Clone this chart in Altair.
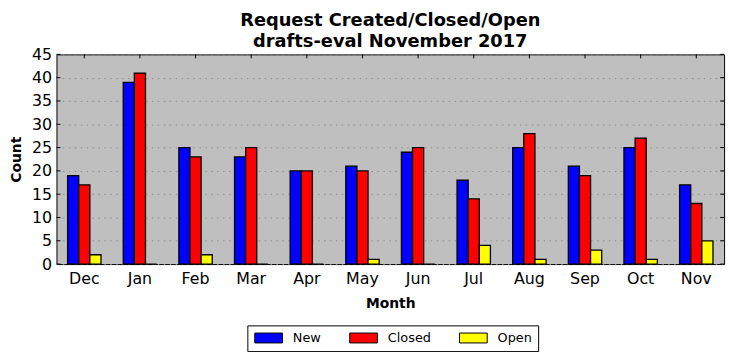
import altair as alt
import pandas as pd

months = ["Dec", "Jan", "Feb", "Mar", "Apr", "May", "Jun", "Jul", "Aug", "Sep", "Oct", "Nov"]
new_vals = [19, 39, 25, 23, 20, 21, 24, 18, 25, 21, 25, 17]
closed_vals = [17, 41, 23, 25, 20, 20, 25, 14, 28, 19, 27, 13]
open_vals = [2, 0, 2, 0, 0, 1, 0, 4, 1, 3, 1, 5]
series = ["New", "Closed", "Open"]
colors = ["#0000ff", "#ff0000", "#ffff00"]
y_ticks = [0, 5, 10, 15, 20, 25, 30, 35, 40, 45]

rows = []
for i, m in enumerate(months):
    for s, vals in zip(series, [new_vals, closed_vals, open_vals]):
        rows.append({"Month": m, "Series": s, "Count": vals[i]})
df = pd.DataFrame(rows)
mdf = pd.DataFrame({"Month": months})
tdf = pd.DataFrame({"v": y_ticks})

W, H = 675, 212
FONT = "DejaVu Sans"

xscale = alt.Scale(domain=months, paddingInner=0, paddingOuter=0)
yscale = alt.Scale(domain=[0, 45], nice=False, zero=True)

xaxis = alt.Axis(title="Month", labelAngle=0, ticks=False, tickSize=0, domain=False,
                 labelFontSize=16, labelPadding=7, labelColor="black",
                 titleFontSize=14, titleFontWeight="bold", titlePadding=10,
                 titleColor="black", labelFont=FONT, titleFont=FONT)
yaxis = alt.Axis(title="Count", values=y_ticks, ticks=False, tickSize=0, domain=False,
                 labelOverlap=False, labelFlush=False,
                 labelFontSize=16, labelPadding=5, labelColor="black",
                 grid=True, gridColor="#8c8c8c", gridDash=[1.5, 4.5], gridWidth=1,
                 titleFontSize=14, titleFontWeight="bold", titlePadding=8,
                 titleColor="black", labelFont=FONT, titleFont=FONT)

bars = alt.Chart(df).mark_bar(stroke="black", strokeWidth=1.3, opacity=1).encode(
    x=alt.X("Month:N", scale=xscale, sort=months, axis=xaxis, title="Month"),
    xOffset=alt.XOffset("Series:N", sort=series,
                        scale=alt.Scale(domain=series, paddingOuter=1, paddingInner=0)),
    y=alt.Y("Count:Q", scale=yscale, axis=yaxis, title="Count"),
    fill=alt.Fill("Series:N", sort=series,
                  scale=alt.Scale(domain=series, range=colors),
                  legend=alt.Legend(title=None, orient="none", direction="horizontal",
                                    legendX=193, legendY=274,
                                    symbolType="M-2.8,-1H2.8V1H-2.8Z", symbolSize=100,
                                    symbolOffset=9,
                                    symbolStrokeColor="black", symbolStrokeWidth=1,
                                    symbolOpacity=1,
                                    labelFontSize=13, labelFont=FONT, labelColor="black",
                                    labelOffset=18, columnPadding=26, padding=6,
                                    fillColor="white", strokeColor="black", cornerRadius=0)),
)

top_ticks = alt.Chart(mdf).mark_rule(color="black", strokeWidth=1).encode(
    x=alt.X("Month:N", scale=xscale, sort=months, axis=xaxis, title="Month"),
    y=alt.value(0), y2=alt.value(4),
)
left_ticks = alt.Chart(tdf).mark_rule(color="black", strokeWidth=1).encode(
    y=alt.Y("v:Q", scale=yscale, axis=yaxis, title="Count"), x=alt.value(0), x2=alt.value(4),
)
right_ticks = alt.Chart(tdf).mark_rule(color="black", strokeWidth=1).encode(
    y=alt.Y("v:Q", scale=yscale, axis=yaxis, title="Count"), x=alt.value(W - 4), x2=alt.value(W),
)

chart = alt.layer(bars, top_ticks, left_ticks, right_ticks).properties(
    width=W, height=H,
    title=alt.Title(["Request Created/Closed/Open", "drafts-eval November 2017"],
                    fontSize=18, fontWeight="bold", font=FONT, color="black",
                    anchor="middle", lineHeight=22, offset=-5),
    autosize=alt.AutoSizeParams(type="none"),
    padding={"left": 49, "top": 45, "right": 9, "bottom": 87},
    background="white",
).configure_view(
    fill="#bfbfbf", stroke="black", strokeWidth=1
)

chart.save("out.html", embed_options={"renderer": "svg", "actions": False})
